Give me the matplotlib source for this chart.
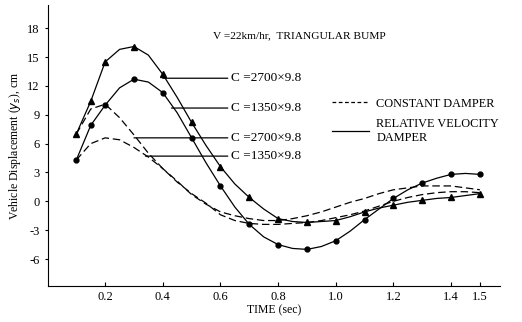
import matplotlib
matplotlib.use("Agg")
import matplotlib.pyplot as plt
from matplotlib.lines import Line2D

plt.rcParams['font.family'] = ['Liberation Serif', 'DejaVu Serif']

# time (sec)
t = [0.10, 0.15, 0.20, 0.25, 0.30, 0.35, 0.40, 0.45, 0.50, 0.55,
     0.60, 0.65, 0.70, 0.75, 0.80, 0.85, 0.90, 0.95, 1.00, 1.05,
     1.10, 1.15, 1.20, 1.25, 1.30, 1.35, 1.40, 1.45, 1.50]

# relative velocity damper
rel_2700 = [7.0, 10.4, 14.5, 15.8, 16.1, 15.2, 13.2, 10.8, 8.2, 5.8,
            3.6, 1.8, 0.4, -0.8, -1.8, -2.1, -2.2, -2.1, -2.0, -1.6,
            -1.1, -0.7, -0.4, -0.1, 0.1, 0.3, 0.4, 0.6, 0.8]
rel_1350 = [4.3, 7.9, 10.0, 11.8, 12.7, 12.4, 11.3, 9.2, 6.6, 4.0,
            1.6, -0.6, -2.4, -3.7, -4.5, -4.9, -5.0, -4.7, -4.1, -3.1,
            -1.9, -0.8, 0.3, 1.2, 1.9, 2.4, 2.8, 2.9, 2.8]

# constant damper
con_2700 = [7.0, 9.6, 10.1, 8.7, 6.9, 5.0, 3.4, 2.0, 0.8, -0.2,
            -1.4, -2.0, -2.3, -2.4, -2.4, -2.3, -2.2, -2.0, -1.7, -1.4,
            -1.0, -0.5, 0.0, 0.4, 0.7, 0.9, 1.0, 1.0, 0.9]
con_1350 = [4.3, 6.0, 6.6, 6.4, 5.6, 4.6, 3.4, 2.1, 0.7, -0.3,
            -1.1, -1.5, -1.8, -2.0, -2.0, -1.8, -1.5, -1.1, -0.6, -0.1,
            0.3, 0.8, 1.2, 1.4, 1.6, 1.6, 1.6, 1.4, 1.2]

marks = [0, 1, 2, 4, 6, 8, 10, 12, 14, 16, 18, 20, 22, 24, 26, 28]

# leader labels: (text, start time, level)
labels = ["C =2700\u00d79.8", "C =1350\u00d79.8", "C =2700\u00d79.8", "C =1350\u00d79.8"]
label_t = [0.40, 0.43, 0.30, 0.34]
label_y = [12.8, 9.7, 6.6, 4.7]

xticks = [0.2, 0.4, 0.6, 0.8, 1.0, 1.2, 1.4, 1.5]
yticks = [18, 15, 12, 9, 6, 3, 0, -3, -6]

fig = plt.figure(figsize=(5.22, 3.22), dpi=100)
ax = fig.add_axes([0.091, 0.112, 0.867, 0.872])

ax.plot(t, rel_2700, color='black', lw=0.9, marker='^', ms=4, markevery=marks)
ax.plot(t, rel_1350, color='black', lw=0.9, marker='o', ms=3.5, markevery=marks)
ax.plot(t, con_2700, color='black', lw=0.9, dashes=(6, 3))
ax.plot(t, con_1350, color='black', lw=0.9, dashes=(6, 3))

for txt, lt, ly in zip(labels, label_t, label_y):
    ax.annotate(txt, xy=(lt, ly), xytext=(0.635, ly), fontsize=9.5, va='center',
                arrowprops=dict(arrowstyle='-', lw=0.9, color='black',
                                shrinkA=0, shrinkB=0))

ax.text(0.575, 17.2, "V =22km/hr,  TRIANGULAR BUMP", fontsize=8.2, va='center')

h = [Line2D([], [], color='black', lw=0.9, dashes=(3, 2)),
     Line2D([], [], color='black', lw=0.9)]
ax.legend(h, ["CONSTANT DAMPER", "RELATIVE VELOCITY\nDAMPER"], frameon=False,
          fontsize=8.8, loc='upper left', bbox_to_anchor=(0.605, 0.71),
          handlelength=3, handletextpad=0.6, labelspacing=0.7)

ax.set_xlim(0, 1.57)
ax.set_ylim(-8.8, 20.4)
ax.set_xticks(xticks)
ax.set_xticklabels([str(x) for x in xticks])
ax.set_yticks(yticks)
ax.set_yticklabels([str(y) for y in yticks])
ax.tick_params(axis='x', direction='in', length=3, labelsize=9)
ax.tick_params(axis='y', direction='out', length=2, labelsize=9)
ax.spines['top'].set_visible(False)
ax.spines['right'].set_visible(False)

ax.set_xlabel("TIME (sec)", fontsize=8.5, labelpad=1)
ax.set_ylabel("Vehicle Displacement ($y_s$), cm", fontsize=8.5, labelpad=3)

fig.savefig("out.png", dpi=100)
